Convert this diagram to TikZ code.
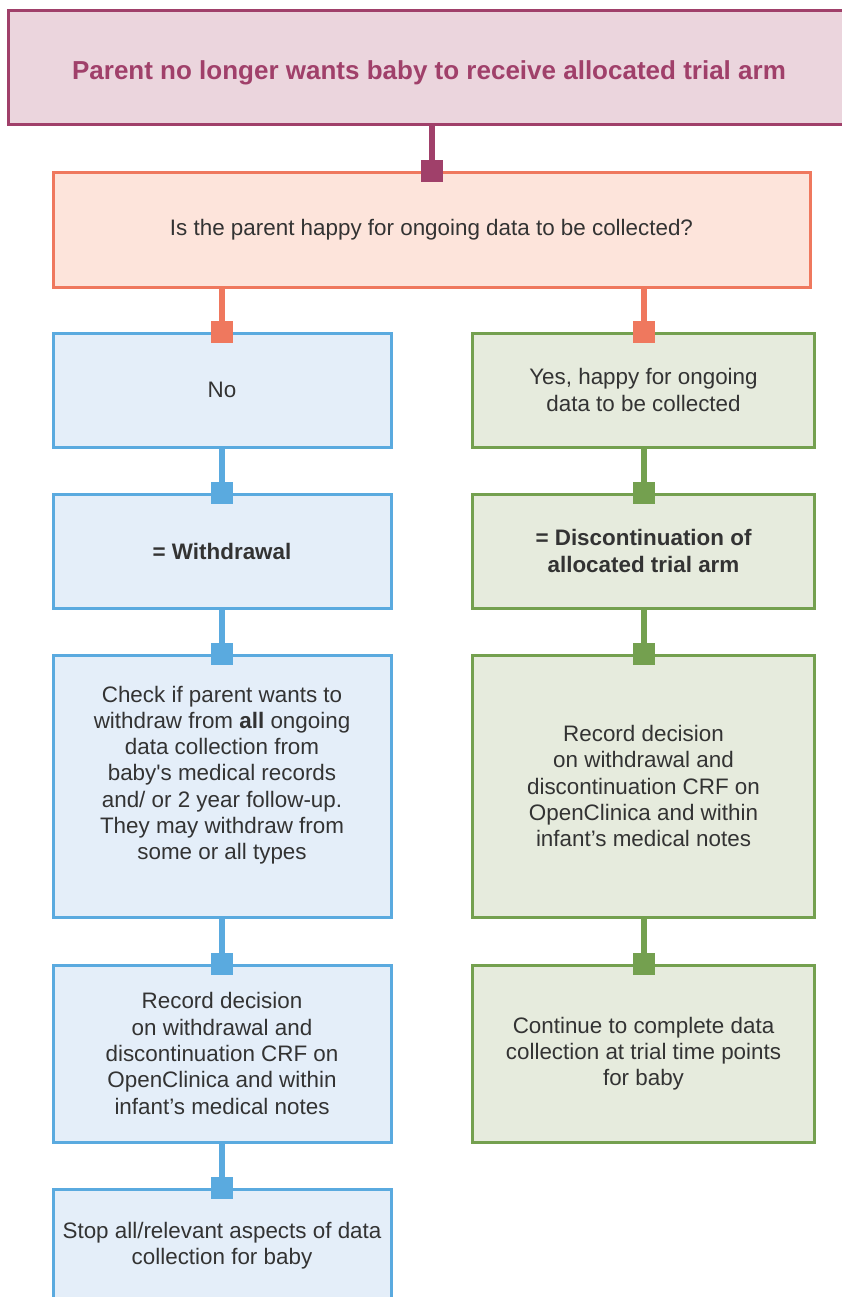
\documentclass[tikz,border=0pt]{standalone}
\usepackage{fontspec}
\setmainfont{Liberation Sans}
\usetikzlibrary{arrows.meta}
\definecolor{plum}{HTML}{A0406A}
\definecolor{plumfill}{HTML}{EBD5DD}
\definecolor{salmon}{HTML}{EF785E}
\definecolor{salmonfill}{HTML}{FDE4DB}
\definecolor{skyline}{HTML}{5AAADF}
\definecolor{skyfill}{HTML}{E4EEF9}
\definecolor{leaf}{HTML}{74A04F}
\definecolor{leaffill}{HTML}{E6EBDD}
\definecolor{ink}{HTML}{333333}

\begin{document}
\begin{tikzpicture}[x=1pt,y=-1pt]
\tikzstyle{every node}=[font=\fontsize{22.4}{26.3}\selectfont, text=ink, align=center, line width=3pt];
\tikzstyle{topbox}=[draw=plum, fill=plumfill, minimum width=842pt, minimum height=114pt, text=plum, font=\fontsize{26}{30}\selectfont\bfseries, text height=22.8pt, text depth=0pt];
\tikzstyle{qbox}=[draw=salmon, fill=salmonfill, minimum width=757pt, minimum height=114pt];
\tikzstyle{nobox}=[draw=skyline, fill=skyfill, minimum width=338pt];
\tikzstyle{yesbox}=[draw=leaf, fill=leaffill, minimum width=342pt];
\tikzstyle{link}=[line width=6pt, -{Square[length=22pt,width=22pt]}, shorten >=-11pt];
\clip (0,0) rectangle (842,1297);
\fill[white] (0,0) rectangle (842,1297);
% header and question
\node [topbox] (top) at (429,68) {Parent no longer wants baby to receive allocated trial arm};
\node [qbox] (q) at (431.5,230) {Is the parent happy for ongoing data to be collected?};
% no branch
\node [nobox, minimum height=114pt] (no) at (222,390) {No};
\node [nobox, minimum height=114pt] (wd) at (222,551) {\bfseries = Withdrawal};
\node [nobox, minimum height=262pt] (check) at (222,786) {Check if parent wants to\\ withdraw from \textbf{all} ongoing\\ data collection from\\ baby\textquotesingle s medical records\\ and/ or 2 year follow-up.\\ They may withdraw from\\ some or all types\\ ~};
\node [nobox, minimum height=177pt] (rec1) at (222,1053.5) {Record decision\\ on withdrawal and\\ discontinuation CRF on\\ OpenClinica and within\\ infant's medical notes};
\node [nobox, minimum height=114pt] (stop) at (222,1246) {Stop all/relevant aspects of data\\ collection for baby};
% yes branch
\node [yesbox, minimum height=114pt] (yes) at (643.5,390) {Yes, happy for ongoing\\ data to be collected};
\node [yesbox, minimum height=114pt] (disc) at (643.5,551) {\bfseries = Discontinuation of\\ \bfseries allocated trial arm};
\node [yesbox, minimum height=262pt] (rec2) at (643.5,786) {Record decision\\ on withdrawal and\\ discontinuation CRF on\\ OpenClinica and within\\ infant's medical notes};
\node [yesbox, minimum height=177pt] (cont) at (643.5,1053.5) {Continue to complete data\\ collection at trial time points\\ for baby};
% connectors
\draw [link, plum] (q.north |- top.south) -- (q.north);
\draw [link, salmon] (no.north |- q.south) -- (no.north);
\draw [link, salmon] (yes.north |- q.south) -- (yes.north);
\draw [link, skyline] (no) -- (wd.north);
\draw [link, skyline] (wd) -- (check.north);
\draw [link, skyline] (check) -- (rec1.north);
\draw [link, skyline] (rec1) -- (stop.north);
\draw [link, leaf] (yes) -- (disc.north);
\draw [link, leaf] (disc) -- (rec2.north);
\draw [link, leaf] (rec2) -- (cont.north);
\end{tikzpicture}
\end{document}
